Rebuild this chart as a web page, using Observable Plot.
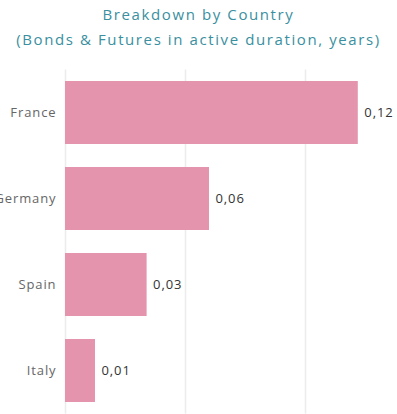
<!DOCTYPE html>
<html>
<head>
<meta charset="utf-8">
<script src="https://cdn.jsdelivr.net/npm/d3@7"></script>
<script src="https://cdn.jsdelivr.net/npm/@observablehq/plot@0.6"></script>
<style>
  html, body { margin: 0; padding: 0; background: #fff; overflow: hidden; }
  #title { height: 56px; text-align: center; color: #3a8fa0; font-family: "Open Sans", sans-serif; font-size: 15px; letter-spacing: 1.6px; line-height: 25px; padding-top: 2px; box-sizing: border-box; white-space: nowrap; }
  #chart svg { display: block; }
  #chart svg text { letter-spacing: 0.9px; }
</style>
</head>
<body>
<div id="title">Breakdown by Country<br>(Bonds &amp; Futures in active duration, years)</div>
<div id="chart"></div>
<script>
const countries = ["France", "Germany", "Spain", "Italy"];
const values = [0.122, 0.060, 0.034, 0.0125];
const labels = ["0,12", "0,06", "0,03", "0,01"];
const gridTicks = [0, 0.05, 0.1];

const data = countries.map((c, i) => ({country: c, value: values[i], label: labels[i]}));

const chart = Plot.plot({
  width: 397,
  height: 358,
  marginLeft: 65,
  marginRight: 20,
  marginTop: 13.4,
  marginBottom: 0.6,
  style: {fontFamily: "'Open Sans', sans-serif", fontSize: "13px", background: "#fff"},
  x: {domain: [0, 0.13], axis: null},
  y: {domain: countries, paddingInner: 0.27, paddingOuter: 0.135, label: null},
  marks: [
    Plot.ruleX(gridTicks, {stroke: "#ececec", strokeWidth: 1.5, strokeOpacity: 1}),
    Plot.barX(data, {y: "country", x: "value", fill: "#e594ae"}),
    Plot.text(data, {y: "country", x: "value", text: "label", textAnchor: "start", dx: 6, fill: "#333", fontSize: 13}),
    Plot.axisY({tickSize: 0, tickPadding: 9, color: "#666", fontSize: 13, label: null})
  ]
});
document.getElementById("chart").appendChild(chart);
</script>
</body>
</html>
